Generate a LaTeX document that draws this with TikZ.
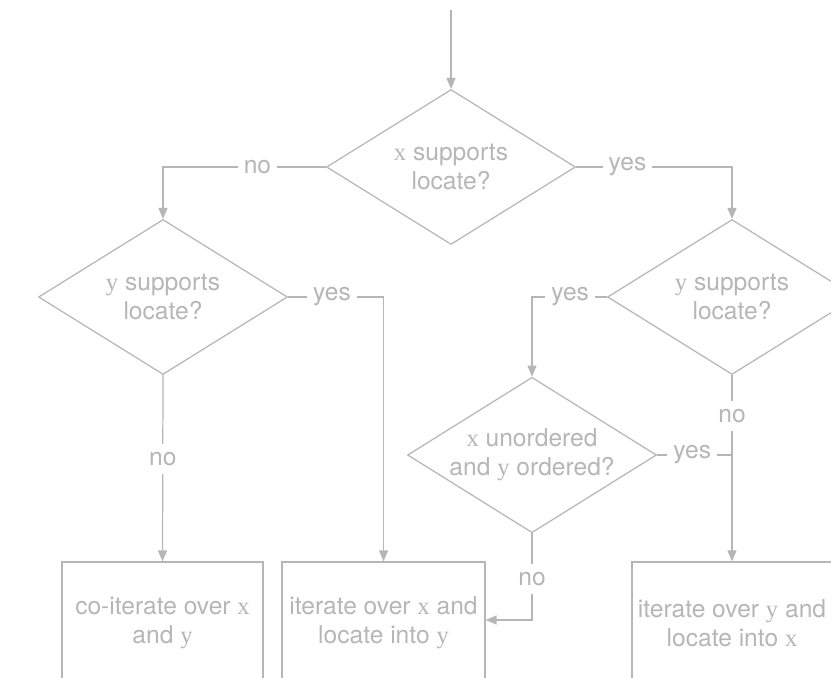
\documentclass[tikz,border=0pt]{standalone}
\usepackage{fontspec}
\setmainfont{TeX Gyre Heros}
\newfontfamily\varfont{Liberation Serif}
\usepackage{tikz}
\usetikzlibrary{shapes.geometric,arrows.meta}

\definecolor{flowgray}{RGB}{182,182,182}
\newcommand{\var}[1]{{\varfont #1}}

\begin{document}
\begin{tikzpicture}[x=0.02cm,y=-0.02cm,
    every node/.style={text=flowgray,font=\fontsize{14}{16.5}\selectfont},
    decision/.style={draw=flowgray,line width=0.7pt,shape=diamond,aspect=1.6,
      inner sep=0pt,minimum width=4.98cm,minimum height=3.1cm,align=center},
    action/.style={draw=flowgray,line width=0.7pt,rectangle,
      minimum height=2.44cm,align=center},
    answer/.style={fill=white,inner xsep=0.12cm,inner ysep=0.16cm},
    flow/.style={draw=flowgray,line width=0.7pt,-{Triangle[length=0.22cm,width=0.18cm]}},
    wire/.style={draw=flowgray,line width=0.7pt}]
  \useasboundingbox (0,0) rectangle (831,678);
  \clip (0,0) rectangle (831,678);

  % decisions
  \node[decision] (locx) at (451,167) {\var{x} supports\\locate?};
  \node[decision] (locyl) at (163,297) {\var{y} supports\\locate?};
  \node[decision] (locyr) at (732,297) {\var{y} supports\\locate?};
  \node[decision] (order) at (532,455) {\var{x} unordered\\and \var{y} ordered?};

  % outcomes (cut off at the bottom)
  \node[action,minimum width=4.02cm] (coiter) at (162.5,623) {co-iterate over \var{x}\\and \var{y}};
  \node[action,minimum width=4.06cm] (iterx) at (383.5,623) {iterate over \var{x} and\\locate into \var{y}};
  \node[action,minimum width=4.00cm] (itery) at (732,623) {iterate over \var{y} and\\locate into \var{x}};

  \coordinate (start) at (451,10);
  \coordinate (bend) at (532,620);

  \draw[flow] (start) -- (locx.north);
  \draw[flow] (locx.west) -- node[answer,pos=0.42] (nox) {no} (locx.west -| locyl) -- (locyl.north);
  \draw[flow] (locx.east) -- node[answer,pos=0.33] (yesx) {yes} (locx.east -| locyr) -- (locyr.north);
  \draw[flow] (locyl.east) -- node[answer,pos=0.46] (yesyl) {yes} (locyl.east -| iterx) -- (iterx.north);
  \draw[flow] (locyl.south) -- node[answer,pos=0.45] (noyl) {no} (coiter.north);
  \draw[flow] (locyr.west) -- node[answer,pos=0.49] (yesyr) {yes} (locyr.west -| order) -- (order.north);
  \draw[flow] (locyr.south) -- node[answer,pos=0.22] (noyr) {no} (itery.north);
  \draw[wire] (order.east) -- node[answer,pos=0.47] (yesord) {yes} (order.east -| itery);
  \draw[flow] (order.south) -- node[answer,pos=0.53] (noord) {no} (bend) -- (bend -| iterx.east);
\end{tikzpicture}
\end{document}
